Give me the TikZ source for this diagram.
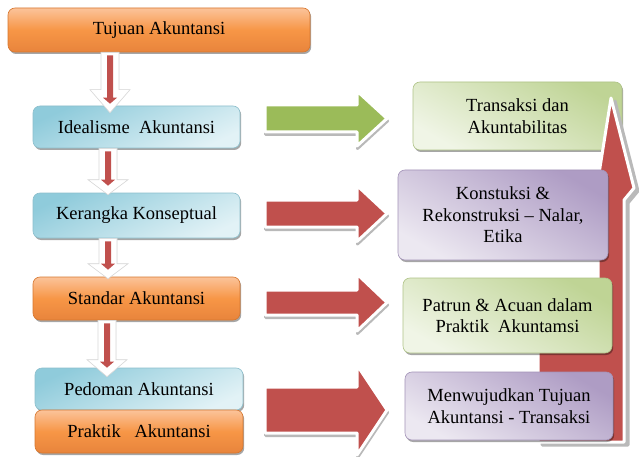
\documentclass[tikz,border=0pt]{standalone}
\usepackage{fontspec}
\setmainfont{Liberation Serif}
\usetikzlibrary{shadows,calc}

\definecolor{orgA}{HTML}{FBC39A}
\definecolor{orgB}{HTML}{F79646}
\definecolor{orgC}{HTML}{E8843C}
\definecolor{orgLine}{HTML}{D7772F}
\definecolor{bluA}{HTML}{8FCBDB}
\definecolor{bluB}{HTML}{E2F2F6}
\definecolor{bluLine}{HTML}{8DBFCC}
\definecolor{grnA}{HTML}{BFD495}
\definecolor{grnB}{HTML}{F0F5E6}
\definecolor{grnLine}{HTML}{AFC387}
\definecolor{purA}{HTML}{AE9CC4}
\definecolor{purB}{HTML}{ECE8F1}
\definecolor{purLine}{HTML}{A393B8}
\definecolor{arrRed}{HTML}{C0504D}
\definecolor{arrGreen}{HTML}{9BBB59}

\tikzset{
  box/.style={rounded corners=7pt, inner sep=0pt, align=center,
    font=\fontsize{18.5}{21.5}\selectfont, line width=0.6pt,
    drop shadow={shadow xshift=1.2pt, shadow yshift=-2pt, opacity=0.35, fill=black}},
  orangebox/.style={box, draw=orgLine, top color=orgA, bottom color=orgC, middle color=orgB},
  bluebox/.style={box, draw=bluLine, top color=bluA, bottom color=bluB, shading angle=25},
  greenbox/.style={box, draw=grnLine, top color=grnA, bottom color=grnB, shading angle=-30},
  purplebox/.style={box, draw=purLine, top color=purA, bottom color=purB, shading angle=-30},
  arrowshade/.style={fill=gray!55, draw=gray!55, line width=3pt, line join=round},
  arrowbody/.style={draw=white, line width=3pt, line join=round},
}

% white hollow arrow with a slim red arrow inside, between two stacked boxes
% #1 x position, #2 upper node, #3 lower node, #4 overlap into lower node, #5 head length
\newcommand\stepdown[5]{%
  \coordinate (sx) at (#1,0);
  \coordinate (A) at (sx |- #2.south);
  \coordinate (T) at ($(sx |- #3.north)+(0,#4)$);
  \coordinate (B) at ($(T)+(0,-#5)$);
  \fill[gray!45, opacity=0.7, shift={(1.5,1.5)}]
    ($(A)+(-9,0)$) -- ($(B)+(-9,0)$) -- ($(B)+(-20,0)$) -- (T) --
    ($(B)+(20,0)$) -- ($(B)+(9,0)$) -- ($(A)+(9,0)$) -- cycle;
  \filldraw[fill=white, draw=gray!30, line width=0.6pt]
    ($(A)+(-9,0)$) -- ($(B)+(-9,0)$) -- ($(B)+(-20,0)$) -- (T) --
    ($(B)+(20,0)$) -- ($(B)+(9,0)$) -- ($(A)+(9,0)$) -- cycle;
  \fill[arrRed]
    ($(A)+(-3,3)$) -- ($(T)+(-3,-15)$) -- ($(T)+(-7,-15)$) -- ($(T)+(0,-9)$) --
    ($(T)+(7,-15)$) -- ($(T)+(3,-15)$) -- ($(A)+(3,3)$) -- cycle;
}

% block arrow pointing right: #1 colour, #2 y centre, #3 shaft half height, #4 head half height
\newcommand\blockarr[4]{%
  \filldraw[arrowshade, shift={(0.5,2.5)}]
    (265,{#2-#3}) -- (357,{#2-#3}) -- (357,{#2-#4}) -- (387,#2) --
    (357,{#2+#4}) -- (357,{#2+#3}) -- (265,{#2+#3}) -- cycle;
  \filldraw[arrowbody, fill=#1]
    (265,{#2-#3}) -- (357,{#2-#3}) -- (357,{#2-#4}) -- (387,#2) --
    (357,{#2+#4}) -- (357,{#2+#3}) -- (265,{#2+#3}) -- cycle;
}

\begin{document}
\begin{tikzpicture}[x=1pt, y=-1pt]
  \useasboundingbox (0,0) rectangle (639,457);
  \fill[white] (0,0) rectangle (639,457);

  % left column
  \node[orangebox, minimum width=302pt, minimum height=44pt] (tuj) at (159,30) {Tujuan Akuntansi};
  \node[bluebox, minimum width=207pt, minimum height=42pt] (idl) at (136.5,127) {Idealisme\ \ Akuntansi};
  \node[bluebox, minimum width=207pt, minimum height=45pt] (ker) at (136.5,215.5) {Kerangka Konseptual};
  \node[orangebox, minimum width=207pt, minimum height=43pt] (std) at (136.5,298.5) {Standar Akuntansi};
  \node[bluebox, minimum width=208pt, minimum height=42pt] (ped) at (139,389) {Pedoman Akuntansi};
  \node[orangebox, minimum width=208pt, minimum height=43pt] (prk) at (139,431.5) {Praktik\ \ \ Akuntansi};

  % downward steps
  \stepdown{110}{tuj}{idl}{7}{23}
  \stepdown{108}{idl}{ker}{2}{15}
  \stepdown{108}{ker}{std}{2}{15}
  \stepdown{107}{std}{ped}{9}{17}

  % arrows to the right column
  \blockarr{arrGreen}{118.5}{13.5}{27.5}
  \blockarr{arrRed}{213.5}{13.5}{28}
  \blockarr{arrRed}{302.5}{12.5}{28.5}
  \blockarr{arrRed}{410}{23}{45}

  % right column, top box
  \node[greenbox, minimum width=209pt, minimum height=68pt] (trn) at (517.5,116) {Transaksi dan\\Akuntabilitas};

  % large upward arrow behind the right column
  \filldraw[arrowshade, shift={(4,3)}]
    (611,98) -- (634,188) -- (624,200) -- (624,442) -- (538,442) --
    (538,345) -- (598,300) -- (598,180) -- cycle;
  \filldraw[arrowbody, fill=arrRed]
    (611,98) -- (634,188) -- (624,200) -- (624,442) -- (538,442) --
    (538,345) -- (598,300) -- (598,180) -- cycle;

  % right column, remaining boxes
  \node[purplebox, minimum width=210pt, minimum height=90pt] (kon) at (503,215) {Konstuksi \&\\Rekonstruksi -- Nalar,\\Etika};
  \node[greenbox, minimum width=209pt, minimum height=75pt] (pat) at (507.5,315.5) {Patrun \& Acuan dalam\\Praktik\ \ Akuntamsi};
  \node[purplebox, minimum width=208pt, minimum height=68pt] (men) at (509,406) {Menwujudkan Tujuan\\Akuntansi - Transaksi};
\end{tikzpicture}
\end{document}
